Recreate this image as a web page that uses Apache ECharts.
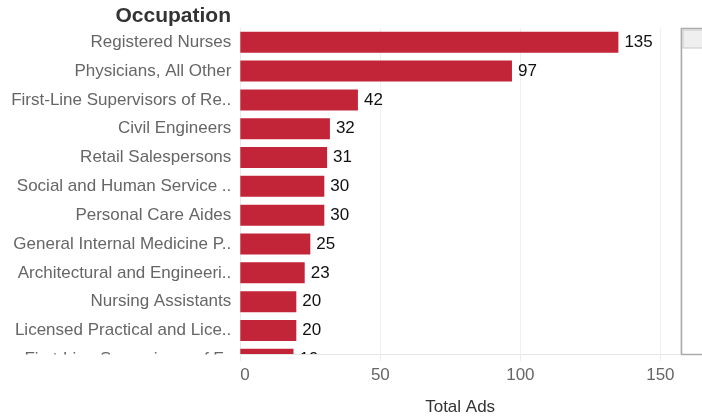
<!DOCTYPE html>
<html>
<head>
<meta charset="utf-8">
<script src="https://cdn.jsdelivr.net/npm/echarts@6/dist/echarts.min.js"></script>
<style>
    html, body { margin: 0; padding: 0; background: #fff; }
    #chart { width: 702px; height: 417px; }
</style>
</head>
<body>
<div id="chart"></div>
<script>
const occupations = [
    'Registered Nurses',
    'Physicians, All Other',
    'First-Line Supervisors of Re..',
    'Civil Engineers',
    'Retail Salespersons',
    'Social and Human Service ..',
    'Personal Care Aides',
    'General Internal Medicine P..',
    'Architectural and Engineeri..',
    'Nursing Assistants',
    'Licensed Practical and Lice..',
    'First-Line Supervisors of F..'
];
const totalAds = [135, 97, 42, 32, 31, 30, 30, 25, 23, 20, 20, 19];
const xTicks = [0, 50, 100, 150];

/*chart*/
(function () {
    const el = document.getElementById('chart');
    const chart = echarts.init(el, null, { renderer: 'canvas' });
    const font = 'Arial, "Liberation Sans", sans-serif';

    // grid runs past the visible bottom so the last row gets cut like a scrolled view
    const gridTop = 27.8;
    const band = 28.83;
    const gridBottomPx = gridTop + band * occupations.length;
    const axisLineY = 354;
    const xMax = 157;

    const xLabelFormatter = function (v) {
        return xTicks.indexOf(v) >= 0 ? String(v) : '';
    };

    const option = {
        animation: false,
        textStyle: { fontFamily: font },
        title: {
            text: 'Occupation',
            right: 702 - 231,
            top: 6,
            padding: 0,
            textStyle: { color: '#333', fontSize: 21, fontWeight: 'bold', fontFamily: font }
        },
        grid: {
            left: 240.3,
            right: 702 - 680,
            top: gridTop,
            bottom: 417 - gridBottomPx,
            containLabel: false,
            outerBoundsMode: 'none'
        },
        xAxis: [
            {
                // gridlines, under the bars
                type: 'value',
                position: 'bottom',
                min: 0,
                max: xMax,
                interval: 50,
                axisLine: { show: false },
                axisTick: { show: false },
                axisLabel: { show: false },
                splitLine: { show: true, lineStyle: { color: '#f0f0f0' } }
            },
            {
                // axis line, ticks, labels and name, above the cut-off mask
                type: 'value',
                position: 'bottom',
                z: 10,
                min: 0,
                max: xMax,
                interval: 50,
                offset: -(gridBottomPx - axisLineY),
                name: 'Total Ads',
                nameLocation: 'middle',
                nameGap: 45,
                nameTextStyle: { color: '#333', fontSize: 17, fontFamily: font },
                axisLine: { show: true, lineStyle: { color: '#e6e6e6' } },
                axisTick: { show: true, length: 7, lineStyle: { color: '#ececec' } },
                axisLabel: {
                    color: '#666',
                    fontSize: 17,
                    margin: 13,
                    showMaxLabel: false,
                    alignMinLabel: 'left',
                    formatter: xLabelFormatter
                },
                splitLine: { show: false }
            }
        ],
        yAxis: {
            type: 'category',
            data: occupations,
            inverse: true,
            axisLine: { show: true, lineStyle: { color: '#ececec' } },
            axisTick: { show: false },
            axisLabel: { color: '#666', fontSize: 17, margin: 9 }
        },
        series: [{
            type: 'bar',
            xAxisIndex: 0,
            data: totalAds,
            barWidth: 21,
            itemStyle: { color: '#c32538' },
            label: {
                show: true,
                position: 'right',
                distance: 6,
                color: '#111',
                fontSize: 17,
                fontFamily: font
            }
        }],
        graphic: [
            {
                // hides the part of the last row that sits under the scroll edge
                type: 'rect',
                z: 5,
                shape: { x: 0, y: axisLineY + 0.6, width: 682, height: gridBottomPx - axisLineY + 2 },
                style: { fill: '#fff' }
            },
            {
                type: 'rect',
                z: 100,
                shape: { x: 681.5, y: 28.5, width: 30, height: 326 },
                style: { fill: '#fff', stroke: '#aaaaaa', lineWidth: 1.5 }
            },
            {
                type: 'rect',
                z: 101,
                shape: { x: 683, y: 30, width: 30, height: 18 },
                style: { fill: '#efefef', stroke: '#c8c8c8', lineWidth: 1 }
            }
        ]
    };

    chart.setOption(option);

    window.addEventListener('resize', chart.resize.bind(chart));
})();
</script>
</body>
</html>
